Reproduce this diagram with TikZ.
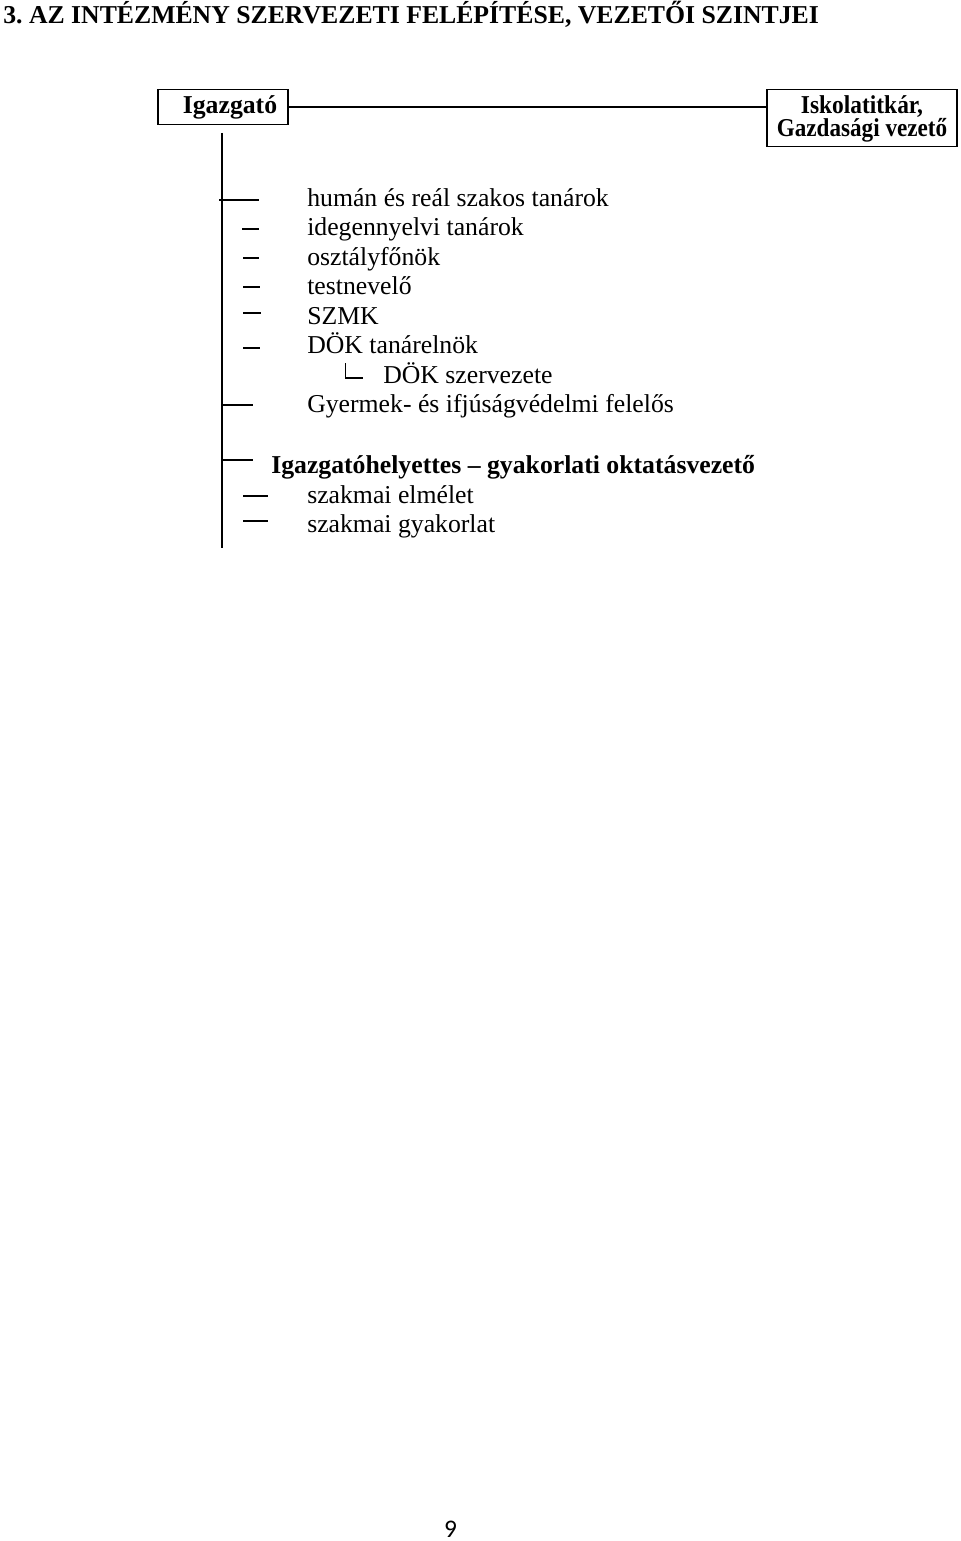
\documentclass[tikz,border=0pt]{standalone}
\usepackage{fontspec}
\setmainfont{Liberation Serif}
\newfontfamily\carlitofont{Carlito}
\frenchspacing
\begin{document}
\begin{tikzpicture}[x=0.75pt,y=-0.75pt,
  txt/.style={anchor=base west, inner sep=0pt, font=\fontsize{19.3}{23}\selectfont},
  btxt/.style={anchor=base west, inner sep=0pt, font=\fontsize{19.3}{23}\selectfont\bfseries},
  ctxt/.style={anchor=base, inner sep=0pt, font=\fontsize{19.3}{23}\selectfont\bfseries},
  boxnode/.style={draw, line width=1.4pt, rectangle, inner sep=0pt},
  conn/.style={line width=1.5pt},
  dashline/.style={line width=1.35pt}]
\useasboundingbox (0,0) rectangle (960,1541);
\fill[white] (0,0) rectangle (960,1541);

% title
\node[btxt] (title) at (3,24) {3. AZ INTÉZMÉNY SZERVEZETI FELÉPÍTÉSE, VEZETŐI SZINTJEI};

% boxes
\node[boxnode, minimum width=97.5pt, minimum height=26.25pt] (igaz) at (223,107) {};
\node[ctxt] (igazt) at (230,113.5) {Igazgató};
\node[boxnode, minimum width=142.5pt, minimum height=42.75pt] (isk) at (862,118) {};
\node[ctxt] (iskt1) at (862,113.3) {\scalebox{0.91}[1]{Iskolatitkár,}};
\node[ctxt] (iskt2) at (862,136.5) {\scalebox{0.9}[1]{Gazdasági vezető}};
\draw[conn] (igaz.east) -- (igaz.east -| isk.west);

% trunk
\coordinate (vtop) at (221.5,133);
\coordinate (vbot) at (221.5,548);
\draw[conn] (vtop) -- (vbot);

% dashes
\coordinate (d1a) at (219,200);   \coordinate (d1b) at (259,200);
\coordinate (d2a) at (242,229);   \coordinate (d2b) at (259,229);
\coordinate (d3a) at (243,258);   \coordinate (d3b) at (259,258);
\coordinate (d4a) at (243,287);   \coordinate (d4b) at (260,287);
\coordinate (d5a) at (243,313);   \coordinate (d5b) at (261,313);
\coordinate (d6a) at (243,348);   \coordinate (d6b) at (260,348);
\coordinate (d8a) at (221,405);   \coordinate (d8b) at (253,405);
\coordinate (d9a) at (222,460);   \coordinate (d9b) at (253,460);
\coordinate (d10a) at (243,496); \coordinate (d10b) at (268,496);
\coordinate (d11a) at (243,521); \coordinate (d11b) at (268,521);
\foreach \i in {1,2,3,4,5,6,8,9,10,11} {\draw[dashline] (d\i a) -- (d\i b);}

% L corner for DÖK szervezete
\coordinate (la) at (345.7,363);
\coordinate (lb) at (345.7,378);
\coordinate (lc) at (363,378);
\draw[line width=1.1pt] (la) -- (lb) -- (lc);

% texts
\node[txt] (t1) at (307,206) {humán és reál szakos tanárok};
\node[txt] (t2) at (307,235.5) {idegennyelvi tanárok};
\node[txt] (t3) at (307,265) {osztályfőnök};
\node[txt] (t4) at (307,294.5) {testnevelő};
\node[txt] (t5) at (307,324) {SZMK};
\node[txt] (t6) at (307,353.5) {DÖK tanárelnök};
\node[txt] (t7) at (383,383) {DÖK szervezete};
\node[txt] (t8) at (307,412.5) {Gyermek- és ifjúságvédelmi felelős};
\node[btxt] (t9) at (271,473.5) {Igazgatóhelyettes -- gyakorlati oktatásvezető};
\node[txt] (t10) at (307,503) {szakmai elmélet};
\node[txt] (t11) at (307,532) {szakmai gyakorlat};

% page number
\node[anchor=base, inner sep=0pt, font=\carlitofont\fontsize{19}{23}\selectfont] (pg) at (450.5,1537) {9};
\end{tikzpicture}
\end{document}
